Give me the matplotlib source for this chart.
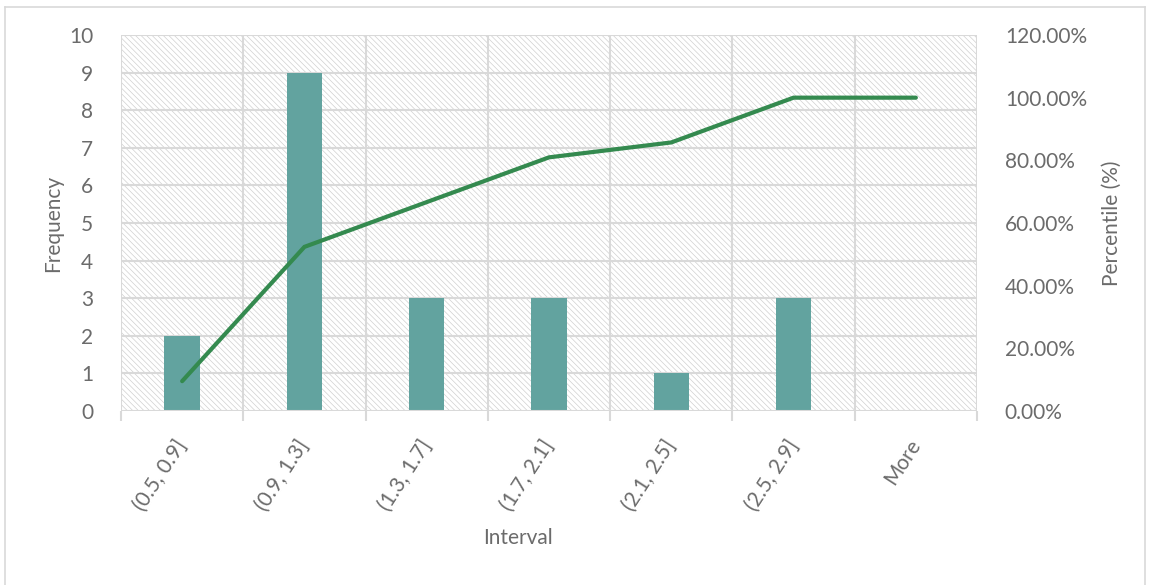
import numpy as np
import matplotlib.pyplot as plt
from matplotlib.patches import Rectangle
from matplotlib.lines import Line2D

intervals = ['(0.5, 0.9]', '(0.9, 1.3]', '(1.3, 1.7]', '(1.7, 2.1]',
             '(2.1, 2.5]', '(2.5, 2.9]', 'More']
frequency = [2, 9, 3, 3, 1, 3, 0]
percentile = [9.52, 52.38, 66.67, 80.95, 85.71, 100.00, 100.00]

grey = '#6b6b6b'
plt.rcParams['font.family'] = ['Lato', 'DejaVu Sans']
plt.rcParams['hatch.linewidth'] = 0.5

fig = plt.figure(figsize=(11.5, 5.85), dpi=100)
ax = fig.add_axes([121 / 1150, 1 - 411 / 585, 856 / 1150, 376 / 585])

x = np.arange(len(intervals))

# striped background of the plot area
bg = Rectangle((0, 0), 1, 1, transform=ax.transAxes, facecolor='white',
               edgecolor='#d0d0d0', linewidth=0, hatch='\\' * 6, zorder=0)
ax.add_patch(bg)
ax.patch.set_visible(False)

ax.set_xlim(-0.5, len(intervals) - 0.5)
ax.set_ylim(0, 10)
ax.set_yticks(range(0, 11))

for yy in range(1, 11):
    ax.axhline(yy, color='#d9d9d9', linewidth=1.5, zorder=1)
for xx in np.arange(-0.5, len(intervals), 1.0):
    ax.axvline(xx, color='#d9d9d9', linewidth=1.5, zorder=1)

ax.bar(x, frequency, width=0.29, color='#62a39f', zorder=2)

for s in ax.spines.values():
    s.set_visible(False)
ax.axhline(0, color='#d9d9d9', linewidth=1.5, zorder=3)

ax.set_xticks(np.arange(-0.5, len(intervals), 1.0), minor=False)
ax.set_xticklabels([])
ax.tick_params(axis='x', which='major', length=7, color='#d9d9d9', width=1.5)
ax.set_xticks(x, minor=True)
ax.set_xticklabels(intervals, minor=True, rotation=57, ha='right', va='center',
                   rotation_mode='anchor', fontsize=15, color=grey)
ax.tick_params(axis='x', which='minor', length=0, pad=22)
ax.tick_params(axis='y', length=0, labelsize=15, labelcolor=grey, pad=20)

ax.set_xlabel('Interval', fontsize=15, color=grey)
ax.xaxis.set_label_coords(0.464, -0.31)
ax.set_ylabel('Frequency', fontsize=15, color=grey)
ax.yaxis.set_label_coords(-0.068, 0.5)

ax2 = ax.twinx()
ax2.plot(x, percentile, color='#348a4f', linewidth=3, solid_capstyle='round',
         solid_joinstyle='miter', zorder=4)
ax2.set_ylim(0, 120)
ax2.set_yticks(range(0, 121, 20))
ax2.set_yticklabels([f'{v:.2f}%' for v in range(0, 121, 20)])
ax2.tick_params(axis='y', length=0, labelsize=15, labelcolor=grey, pad=20)
for s in ax2.spines.values():
    s.set_visible(False)
ax2.set_ylabel('Percentile (%)', fontsize=15, color=grey)
ax2.yaxis.set_label_coords(1.146, 0.5)

# chart frame
fc = '#d9d9d9'
fig.add_artist(Line2D([5 / 1150, 5 / 1150], [0, 1 - 7 / 585], color=fc, lw=1.2))
fig.add_artist(Line2D([5 / 1150, 1145 / 1150], [1 - 7 / 585, 1 - 7 / 585], color=fc, lw=1.2))
fig.add_artist(Line2D([1145 / 1150, 1145 / 1150], [0, 1 - 7 / 585], color=fc, lw=1.2))

fig.savefig('out.png', dpi=100)
